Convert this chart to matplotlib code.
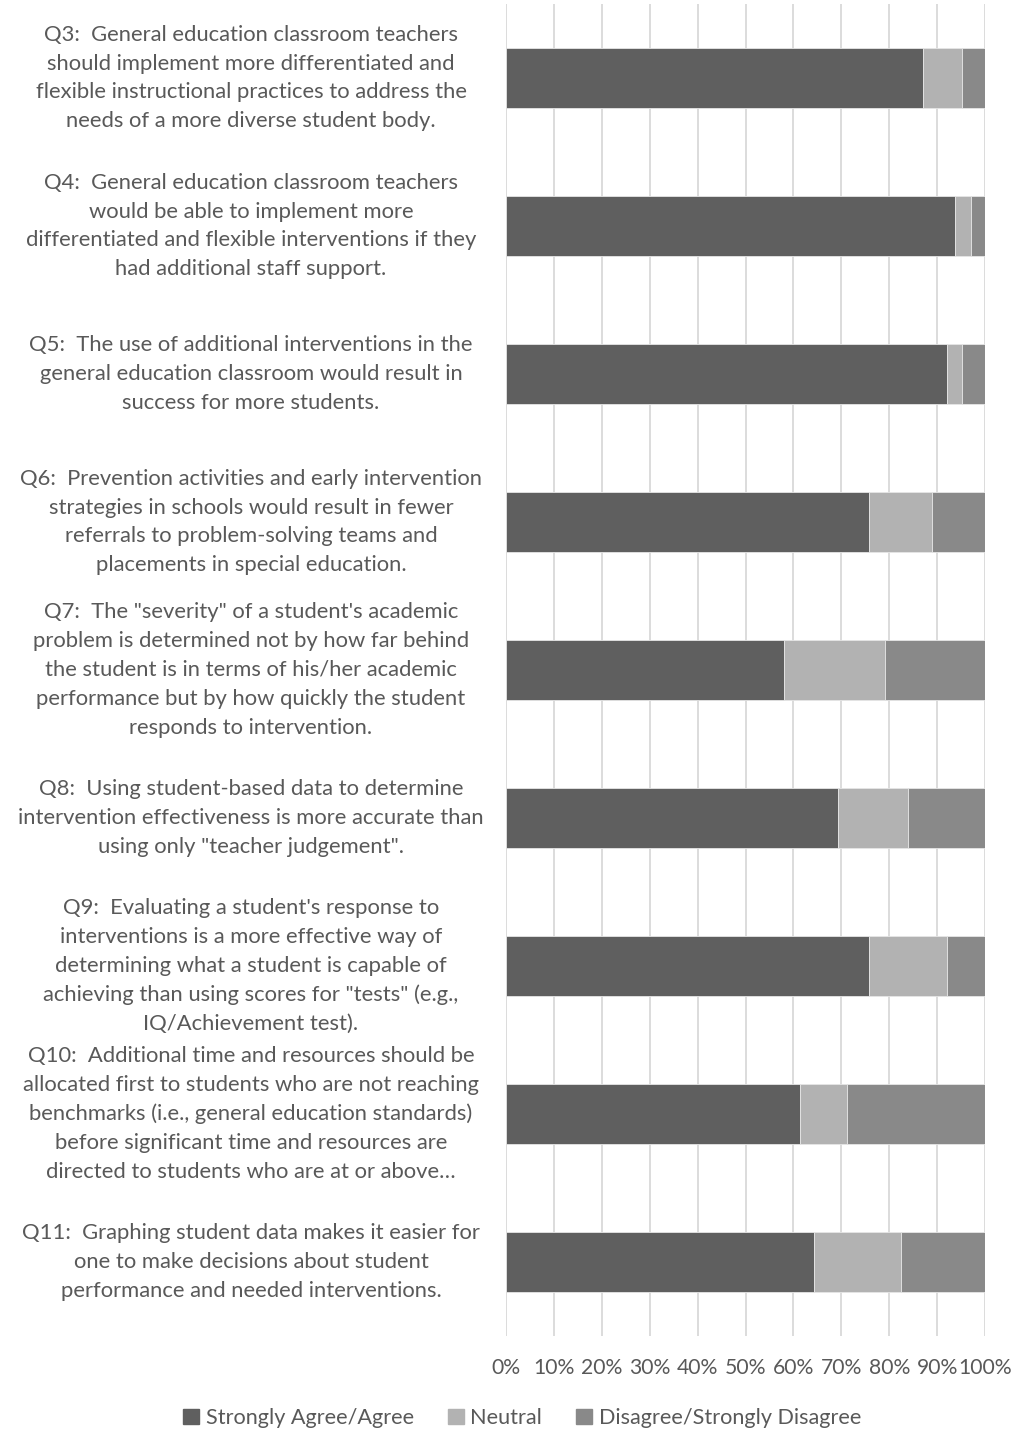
import numpy as np
import matplotlib.pyplot as plt
from matplotlib.transforms import blended_transform_factory
from matplotlib.patches import Patch

# survey questions (top to bottom)
questions = [
    "Q3:  General education classroom teachers\nshould implement more differentiated and\nflexible instructional practices to address the\nneeds of a more diverse student body.",
    "Q4:  General education classroom teachers\nwould be able to implement more\ndifferentiated and flexible interventions if they\nhad additional staff support.",
    "Q5:  The use of additional interventions in the\ngeneral education classroom would result in\nsuccess for more students.",
    "Q6:  Prevention activities and early intervention\nstrategies in schools would result in fewer\nreferrals to problem-solving teams and\nplacements in special education.",
    "Q7:  The \"severity\" of a student's academic\nproblem is determined not by how far behind\nthe student is in terms of his/her academic\nperformance but by how quickly the student\nresponds to intervention.",
    "Q8:  Using student-based data to determine\nintervention effectiveness is more accurate than\nusing only \"teacher judgement\".",
    "Q9:  Evaluating a student's response to\ninterventions is a more effective way of\ndetermining what a student is capable of\nachieving than using scores for \"tests\" (e.g.,\nIQ/Achievement test).",
    "Q10:  Additional time and resources should be\nallocated first to students who are not reaching\nbenchmarks (i.e., general education standards)\nbefore significant time and resources are\ndirected to students who are at or above\u2026",
    "Q11:  Graphing student data makes it easier for\none to make decisions about student\nperformance and needed interventions.",
]

# percentages
agree = [87.0, 93.7, 92.0, 75.8, 58.0, 69.4, 75.8, 61.3, 64.4]
neutral = [8.3, 3.3, 3.3, 13.1, 21.2, 14.6, 16.2, 9.8, 18.0]
disagree = [4.7, 3.0, 4.7, 11.1, 20.8, 16.0, 8.0, 28.9, 17.6]

series_names = ["Strongly Agree/Agree", "Neutral", "Disagree/Strongly Disagree"]
colors = ["#5f5f5f", "#b2b2b2", "#898989"]
text_color = "#595959"

plt.rcParams['font.family'] = ['Lato', 'DejaVu Sans']

fig = plt.figure(figsize=(10.17, 14.31), dpi=100)
ax = fig.add_axes([506/1017, 1 - 1336/1431, 479/1017, 1332/1431])

agree = np.array(agree)
neutral = np.array(neutral)
disagree = np.array(disagree)
tot = agree + neutral + disagree
y = np.arange(len(questions))

lefts = np.zeros(len(questions))
for vals, c in zip([agree, neutral, disagree], colors):
    frac = vals / tot
    ax.barh(y, frac, left=lefts, height=0.4, color=c, edgecolor="#e6e6e6",
            linewidth=0.6, zorder=3)
    lefts = lefts + frac

ax.set_xlim(0, 1)
ax.set_ylim(len(questions) - 0.5, -0.5)
ax.set_xticks(np.arange(0, 1.01, 0.1))
ax.set_xticklabels([f"{int(round(t*100))}%" for t in np.arange(0, 1.01, 0.1)],
                   color=text_color, fontsize=15.2)
ax.tick_params(axis='x', length=0, pad=16)
ax.set_yticks([])
ax.grid(axis='x', color="#d9d9d9", linewidth=1.3, zorder=0)
for s in ax.spines.values():
    s.set_visible(False)

# question labels, centered in the left area
tr = blended_transform_factory(fig.transFigure, ax.transData)
for yi, q in zip(y, questions):
    ax.text(251/1017, yi, q, transform=tr, ha='center', va='center',
            fontsize=15.8, color=text_color, linespacing=1.55)

handles = [Patch(color=c) for c in colors]
fig.legend(handles, series_names, loc='center', ncol=3,
           bbox_to_anchor=(522/1017, 1 - 1418/1431), frameon=False,
           fontsize=15.6, labelcolor=text_color, handlelength=0.75,
           handleheight=0.75, handletextpad=0.3, columnspacing=1.55)

fig.savefig("out.png", dpi=100)
